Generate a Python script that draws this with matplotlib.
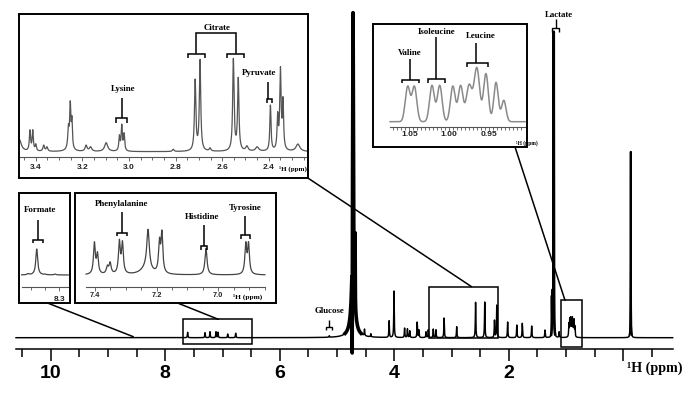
import numpy as np
import matplotlib
matplotlib.use("Agg")
import matplotlib.pyplot as plt
from matplotlib.patches import Rectangle, ConnectionPatch
from matplotlib.ticker import FixedLocator, FormatStrFormatter

# ------------------------------------------------------------------ data
# main spectrum: peak position (ppm), apparent height (px above baseline), half width (ppm)
main_ppm = [7.609, 7.306, 7.219, 7.114, 7.079, 6.910, 6.770, 5.135,
            4.72, 4.685, 4.735,
            4.52, 4.41, 4.09, 4.005, 3.82, 3.77, 3.73, 3.60, 3.57,
            3.446, 3.406, 3.319, 3.272, 3.13, 2.91, 2.58, 2.42, 2.25, 2.21,
            2.02, 1.86, 1.764, 1.60, 1.368, 1.245, 1.235, 1.215, 1.12,
            0.95, 0.935, 0.92, 0.905, 0.89, 0.875, 0.86, 0.845, -0.13]
main_height = [5.4, 5.0, 6.0, 6.0, 5.5, 3.7, 4.5, 2.0,
               325, 105, -15,
               8.7, 4.0, 17, 46.7, 9.7, 9.0, 7.0, 15.7, 8.0,
               6.0, 8.0, 8.7, 8.0, 19.7, 11, 35.4, 35.7, 17.7, 32.7,
               15.7, 12.7, 14.4, 11.7, 7.7, 42, 48, 306, 6.0,
               15, 20, 21, 18, 21, 16, 19, 12, 186]
main_width = [0.005] * 8 + [0.008, 0.003, 0.002] + [0.005] * 19 + \
             [0.005] * 5 + [0.003, 0.003, 0.0025, 0.005] + [0.005] * 8 + [0.0025]
# broad underlying humps (ppm, height, half width)
main_broad_ppm = [4.72, 4.73]
main_broad_height = [28, 25]
main_broad_width = [0.05, 0.012]
main_ticks = [10, 8, 6, 4, 2, 0]
main_tick_labels = ["10", "8", "6", "4", "2", ""]

# inset 1: 3.47 - 2.23 ppm
cit_ppm = [3.47, 3.425, 3.413, 3.40, 3.366, 3.352, 3.260, 3.252, 3.245,
           3.184, 3.165, 3.098, 3.041, 3.031, 3.021, 2.81, 2.716, 2.695, 2.652,
           2.552, 2.531, 2.494, 2.45, 2.393, 2.362, 2.35, 2.339, 2.275]
cit_height = [12, 22, 22, 8, 6.7, 5, 28, 51, 36,
              6.7, 5, 9, 17, 27.7, 19, 2.5, 72.7, 92.4, 4,
              93.4, 74.4, 6, 5, 46.7, 40, 85, 55, 7.7]
cit_width = [0.01, 0.003, 0.003, 0.003, 0.004, 0.004, 0.003, 0.003, 0.0025,
             0.005, 0.006, 0.008, 0.003, 0.003, 0.003, 0.004, 0.0035, 0.0035, 0.004,
             0.0035, 0.0035, 0.006, 0.008, 0.003, 0.003, 0.0035, 0.003, 0.01]
cit_broad_ppm = [3.255]
cit_broad_height = [4]
cit_broad_width = [0.012]

# inset 2: branched-chain amino acids
bcaa_ppm = [1.0521, 1.0437, 1.0217, 1.012, 0.9956, 0.9859, 0.9753, 0.9656,
            0.9542, 0.9416, 0.9319]
bcaa_height = [35.7, 35.7, 36.4, 36.4, 35.7, 36.4, 37.5, 54.3, 48.2, 39.3, 21.4]
bcaa_width = [0.0030, 0.0030, 0.0030, 0.0030, 0.0030, 0.0030, 0.0035, 0.0035,
              0.0030, 0.0028, 0.0028]

# inset 3: formate
form_ppm = [8.52, 8.459, 8.40, 8.33]
form_height = [1.5, 26, 1.0, 1.0]
form_width = [0.008, 0.008, 0.008, 0.008]

# inset 4: aromatic region
aro_ppm = [7.402, 7.392, 7.36, 7.351, 7.321, 7.311, 7.228, 7.191, 7.183,
           7.04, 6.911, 6.902]
aro_height = [33.3, 23.3, 10, 13.3, 35.7, 34.3, 45.7, 37.7, 45, 26.7, 33.3, 33.3]
aro_width = [0.0035, 0.0035, 0.004, 0.004, 0.0035, 0.0035, 0.005, 0.0035,
             0.0035, 0.004, 0.0035, 0.0035]
aro_broad_ppm = [7.235]
aro_broad_height = [6]
aro_broad_width = [0.02]

# ------------------------------------------------------------------ helpers
W, H = 700, 394
SERIF = "Liberation Serif"
SANS = "Liberation Sans"


def lorentz(x, c, w):
    return w ** 2 / ((x - c) ** 2 + w ** 2)


def gauss(x, c, w):
    return np.exp(-(x - c) ** 2 / (2 * w ** 2))


def build(x, ppm, height, width, shape=lorentz, broad=None):
    ppm = np.asarray(ppm, float)
    height = np.asarray(height, float)
    width = np.asarray(width, float)
    base_x = np.zeros_like(x)
    base_p = np.zeros_like(ppm)
    if broad is not None:
        for c, h, w in zip(*broad):
            base_x += h * lorentz(x, c, w)
            base_p += h * lorentz(ppm, c, w)
    M = shape(ppm[:, None], ppm[None, :], width[None, :])
    amp = np.linalg.solve(M, height - base_p)
    return base_x + (amp[None, :] * shape(x[:, None], ppm[None, :], width[None, :])).sum(axis=1)


fig = plt.figure(figsize=(W / 100, H / 100), dpi=100)


def px_axes(l, t, r, b, z=1):
    return fig.add_axes([l / W, 1 - b / H, (r - l) / W, (b - t) / H], zorder=z)


def bracket(ax, x0, x1, y, drop, stem_x=None, stem_top=None, lw=1.1, color="black"):
    ax.plot([x0, x0, x1, x1], [y - drop, y, y, y - drop], color=color, lw=lw,
            solid_joinstyle="miter", solid_capstyle="butt", clip_on=False)
    if stem_top is not None:
        ax.plot([stem_x, stem_x], [y, stem_top], color=color, lw=lw,
                solid_capstyle="butt", clip_on=False)


def label(ax, x, y, s, size=6.4):
    ax.text(x, y, s, ha="center", va="center", fontsize=size, fontweight="bold",
            family=SERIF, color="black")


# ------------------------------------------------------------------ main axes
ax = px_axes(16, 10, 672.7, 349.3, z=1)
ax.set_xlim(10.607, -0.863)
ax.set_ylim(-11.6, 327.7)
for s in ("top", "left", "right"):
    ax.spines[s].set_visible(False)
ax.spines["bottom"].set_linewidth(1.1)
ax.set_yticks([])
ax.set_xticks(main_ticks)
ax.set_xticklabels(main_tick_labels, fontsize=14, fontweight="bold", family=SANS)
ax.xaxis.set_minor_locator(FixedLocator(np.arange(-0.5, 10.51, 0.5)))
ax.tick_params(which="major", length=8.6, width=1.1, pad=3.0)
ax.tick_params(which="minor", length=5.4, width=1.1)
ax.patch.set_alpha(0)

x = np.linspace(10.607, -0.863, 60000)
y = build(x, main_ppm, main_height, main_width,
          broad=(main_broad_ppm, main_broad_height, main_broad_width))
ax.plot(x, y, color="black", lw=1.05, clip_on=False)
for lo, hi, lw in [(4.58, 4.86, 2.6), (1.19, 1.26, 1.9), (-0.15, -0.11, 1.4)]:
    m = (x > lo) & (x < hi)
    ax.plot(x[m], y[m], color="black", lw=lw, clip_on=False)

ax.annotate("\u00b9H (ppm)", xy=(-0.06, 0), xycoords=ax.get_xaxis_transform(),
            xytext=(0, -13.7), textcoords="offset points", ha="left", va="center",
            fontsize=10.2, fontweight="bold", family=SERIF)

# glucose and lactate annotations
bracket(ax, 5.19, 5.08, 11, 3.3, 5.135, 17.7, lw=1.0)
label(ax, 5.135, 27, "Glucose")
bracket(ax, 1.25, 1.118, 309.4, 3.4, 1.177, 318.7, lw=1.0)
label(ax, 1.124, 322.7, "Lactate")

# zoom boxes on the main spectrum
zoom_boxes = {"cit": (3.389, 2.183, 0, 51), "aro": (7.685, 6.491, -6.6, 18.4),
              "bcaa": (1.093, 0.716, -9.6, 37.4)}
for a, b, y0, y1 in zoom_boxes.values():
    ax.add_patch(Rectangle((b, y0), a - b, y1 - y0, fill=False, ec="black",
                           lw=1.1, clip_on=False))


# ------------------------------------------------------------------ insets
def inset(box, xlim, ylim, axis_y, bounds, major, minor, fmt, lsize, pad):
    l, t, r, b = box
    a = px_axes(l, t, r, b, z=3)
    a.set_xlim(*xlim)
    a.set_ylim(*ylim)
    a.set_facecolor("white")
    for s in ("top", "left", "right"):
        a.spines[s].set_visible(False)
    a.spines["bottom"].set_position(("data", axis_y))
    a.spines["bottom"].set_bounds(*bounds)
    a.spines["bottom"].set_color("#555555")
    a.spines["bottom"].set_linewidth(0.8)
    a.add_patch(Rectangle((0, 0), 1, 1, transform=a.transAxes, fill=False,
                          ec="black", lw=1.4, clip_on=False, zorder=5))
    a.set_yticks([])
    a.xaxis.set_major_locator(FixedLocator(major))
    a.xaxis.set_major_formatter(FormatStrFormatter(fmt))
    a.xaxis.set_minor_locator(FixedLocator(minor))
    a.tick_params(which="both", direction="out", color="#555555", width=0.6,
                  labelsize=lsize, pad=pad, labelcolor="#222222")
    a.tick_params(which="major", length=2.6)
    a.tick_params(which="minor", length=2.0)
    for t_ in a.get_xticklabels():
        t_.set_fontweight("bold")
        t_.set_family(SANS)
    xs = np.linspace(bounds[0], bounds[1], 4000)
    return a, xs


def axis_label(a, xpos, axis_y, drop_pt, size):
    a.annotate("\u00b9H (ppm)", xy=(xpos, axis_y), xycoords="data",
               xytext=(0, -drop_pt), textcoords="offset points", ha="left",
               va="center", fontsize=size, fontweight="bold", family=SERIF,
               annotation_clip=False)


def rng(a, b, step):
    return np.round(np.arange(b, a + 1e-9, step), 4)


# citrate inset
ax1, xs = inset((19, 14, 308.3, 178.3), (3.472, 2.2304), (-26.6, 137.7), -5,
                (3.472, 2.2304), [3.4, 3.2, 3.0, 2.8, 2.6, 2.4],
                rng(3.45, 2.25, 0.05), "%.1f", 6, 2.4)
ax1.plot(xs, build(xs, cit_ppm, cit_height, cit_width,
                   broad=(cit_broad_ppm, cit_broad_height, cit_broad_width)),
         color="#555555", lw=0.9)
axis_label(ax1, 2.355, -5, 8.4, 5)
label(ax1, 2.6235, 123.4, "Citrate")
ax1.plot([2.712, 2.712, 2.541, 2.541], [98.4, 118.4, 118.4, 98.4], color="black",
         lw=1.1, solid_joinstyle="miter")
bracket(ax1, 2.748, 2.674, 97.7, 4.0)
bracket(ax1, 2.581, 2.505, 97.7, 4.0)
label(ax1, 3.027, 62.4, "Lysine")
bracket(ax1, 3.056, 3.010, 33.4, 4.4, 3.031, 54)
label(ax1, 2.440, 78.4, "Pyruvate")
bracket(ax1, 2.409, 2.387, 52.4, 3.7, 2.402, 70)

# BCAA inset
ax2, xs = inset((372.7, 24, 527.3, 146.7), (1.0958, 0.9025), (-25, 97.7), -5,
                (1.074, 0.9054), [1.05, 1.00, 0.95], rng(1.07, 0.91, 0.005),
                "%.2f", 6.1, 0.8)
yb = build(xs, bcaa_ppm, bcaa_height, bcaa_width, shape=gauss)
ax2.plot(xs, yb, color="#8a8a8a", lw=1.1)
axis_label(ax2, 0.9166, -5, 11.5, 4)
label(ax2, 1.050, 69, "Valine")
bracket(ax2, 1.0597, 1.0373, 41.7, 3.3, 1.0492, 62.4)
label(ax2, 1.0154, 90, "Isoleucine")
bracket(ax2, 1.0272, 1.0049, 42.7, 3.7, 1.0167, 84.4)
label(ax2, 0.9609, 85.7, "Leucine")
bracket(ax2, 0.9774, 0.9521, 58.4, 3.4, 0.9667, 78.4)

# formate inset
ax3, xs = inset((19, 192.7, 70, 303.3), (8.5838, 8.2246), (-28.3, 82.3), -12.3,
                (8.565, 8.237), [8.3], [8.5, 8.4], "%.1f", 6, 3.7)
ax3.plot(xs, build(xs, form_ppm, form_height, form_width), color="#444444", lw=0.9)
label(ax3, 8.436, 65, "Formate")
bracket(ax3, 8.488, 8.417, 35, 3.3, 8.452, 55)

# aromatic inset
ax4, xs = inset((75, 193.3, 276, 303.3), (7.4649, 6.8129), (-28.3, 81.7), -12.3,
                (7.429, 6.849), [7.4, 7.2, 7.0], rng(7.42, 6.85, 0.05), "%.1f",
                5.3, 0.8)
ax4.plot(xs, build(xs, aro_ppm, aro_height, aro_width,
                   broad=(aro_broad_ppm, aro_broad_height, aro_broad_width)),
         color="#444444", lw=0.9)
axis_label(ax4, 6.952, -12.3, 6.8, 5.3)
label(ax4, 7.313, 71, "Phenylalanine")
bracket(ax4, 7.329, 7.297, 42.3, 3.3, 7.313, 63.3)
label(ax4, 7.054, 57.7, "Histidine")
bracket(ax4, 7.056, 7.037, 29, 4.0, 7.046, 50)
label(ax4, 6.913, 66.7, "Tyrosine")
bracket(ax4, 6.927, 6.897, 40, 4.3, 6.913, 59)

# ------------------------------------------------------------------ connectors
connectors = [(ax3, (0.575, 0), (8.559, 1)), (ax4, (0.514, 0), (7.074, 18.4)),
              (ax1, (1.0, 0), (2.65, 51)), (ax2, (0.92, 0), (1.018, 37.4))]
for a, pa, pb in connectors:
    con = ConnectionPatch(xyA=pa, coordsA=a.transAxes, xyB=pb, coordsB=ax.transData,
                          color="black", lw=1.1, zorder=2)
    fig.add_artist(con)

fig.savefig("out.png", dpi=100)
